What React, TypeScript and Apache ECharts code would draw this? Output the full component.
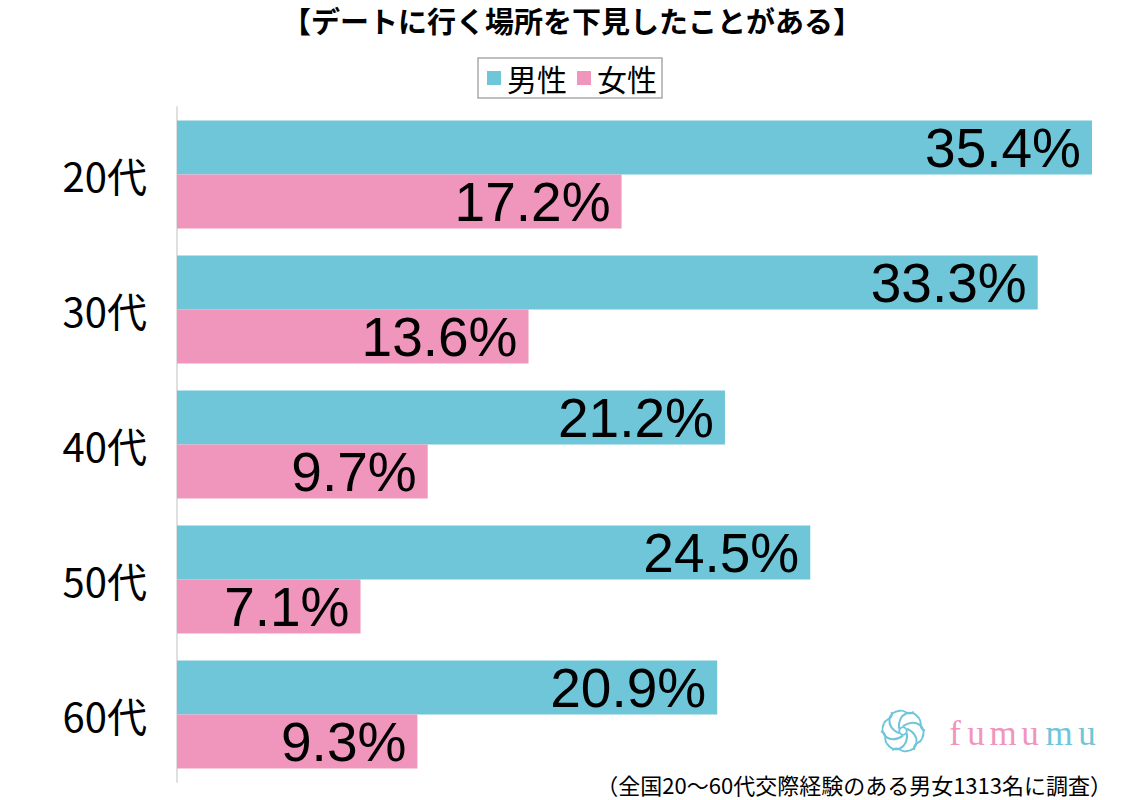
import React, { useEffect, useRef } from "react";
import * as echarts from "echarts";

const categories = ["20代", "30代", "40代", "50代", "60代"];
const maleValues = [35.4, 33.3, 21.2, 24.5, 20.9];
const femaleValues = [17.2, 13.6, 9.7, 7.1, 9.3];
const seriesNames = ["男性", "女性"];
const titleText = "【デートに行く場所を下見したことがある】";
const noteText = "（全国20〜60代交際経験のある男女1313名に調査）";

const BLUE = "#6fc6d9";
const PINK = "#f095bc";
const JP = "'Noto Sans CJK JP', 'Noto Sans', sans-serif";

function logoGraphics(): any[] {
  const petals: any[] = [];
  for (let i = 0; i < 6; i++) {
    const rot = (i * Math.PI) / 3;
    petals.push({
      type: "bezierCurve",
      rotation: rot,
      originX: 0,
      originY: 0,
      shape: { x1: 0, y1: -5, cpx1: 14, cpy1: -14, cpx2: 26, cpy2: -4, x2: 20, y2: 8 },
      style: { fill: "none", stroke: BLUE, lineWidth: 2.2 },
    });
    petals.push({
      type: "bezierCurve",
      rotation: rot,
      originX: 0,
      originY: 0,
      shape: { x1: 20, y1: 8, cpx1: 18, cpy1: 14, cpx2: 10, cpy2: 12, x2: 12, y2: 20 },
      style: { fill: "none", stroke: BLUE, lineWidth: 2 },
    });
  }
  petals.push({
    type: "circle",
    shape: { cx: 0, cy: 0, r: 4 },
    style: { fill: "none", stroke: BLUE, lineWidth: 2 },
  });
  const letters = "fumumu".split("");
  const xs = [955, 976, 1003, 1030, 1059, 1087];
  const texts = letters.map((ch, i) => ({
    type: "text",
    x: xs[i],
    y: 733,
    style: {
      text: ch,
      fill: i < 4 ? PINK : BLUE,
      font: "35px 'Liberation Serif', 'DejaVu Serif', serif",
      textAlign: "center",
      textVerticalAlign: "middle",
    },
  }));
  return [
    { type: "group", x: 903, y: 731, scaleX: 0.95, scaleY: 0.95, children: petals },
    ...texts,
  ];
}

export default function App() {
  const ref = useRef<HTMLDivElement>(null);
  useEffect(() => {
    if (!ref.current) return;
    const chart = echarts.init(ref.current, undefined, { renderer: "svg" });
    const label = {
      show: true,
      position: "insideRight",
      distance: 11,
      color: "#000",
      fontSize: 55,
      fontFamily: "'Liberation Sans', Arial, sans-serif",
      formatter: (p: any) => p.value + "%",
    };
    chart.setOption({
      animation: false,
      backgroundColor: "#fff",
      title: {
        text: titleText,
        left: "center",
        top: 5,
        padding: 0,
        textStyle: { fontSize: 29, lineHeight: 30, fontWeight: "bold", color: "#000", fontFamily: JP },
      },
      legend: {
        data: seriesNames,
        top: 58,
        left: "center",
        itemWidth: 14,
        itemHeight: 14,
        itemGap: 10,
        icon: "rect",
        borderColor: "#aaa",
        borderWidth: 1.5,
        padding: [5, 5, 5, 9],
        textStyle: { fontSize: 30, color: "#000", fontFamily: JP, padding: [0, 0, 0, 1] },
      },
      grid: { left: 177, right: 52, top: 107, bottom: 18, containLabel: false },
      xAxis: {
        type: "value",
        min: 0,
        max: 35.4,
        show: false,
      },
      yAxis: {
        type: "category",
        data: categories,
        inverse: true,
        axisLine: { show: true, lineStyle: { color: "#e0e0e0", width: 2 } },
        axisTick: { show: false },
        axisLabel: { fontSize: 40, color: "#000", fontFamily: JP, margin: 30 },
      },
      series: [
        {
          name: seriesNames[0],
          type: "bar",
          data: maleValues,
          itemStyle: { color: BLUE },
          barGap: "0%",
          barCategoryGap: "20%",
          label,
        },
        {
          name: seriesNames[1],
          type: "bar",
          data: femaleValues,
          itemStyle: { color: PINK },
          barGap: "0%",
          barCategoryGap: "20%",
          label,
        },
      ],
      graphic: [
        ...logoGraphics(),
        {
          type: "text",
          right: 32,
          top: 772,
          style: { text: noteText, fill: "#000", font: `22px ${JP}`, lineHeight: 24 },
        },
      ],
    });
    return () => chart.dispose();
  }, []);
  return (
    <div
      ref={ref}
      style={{ position: "absolute", left: 0, top: 0, width: 1144, height: 800 }}
    />
  );
}
